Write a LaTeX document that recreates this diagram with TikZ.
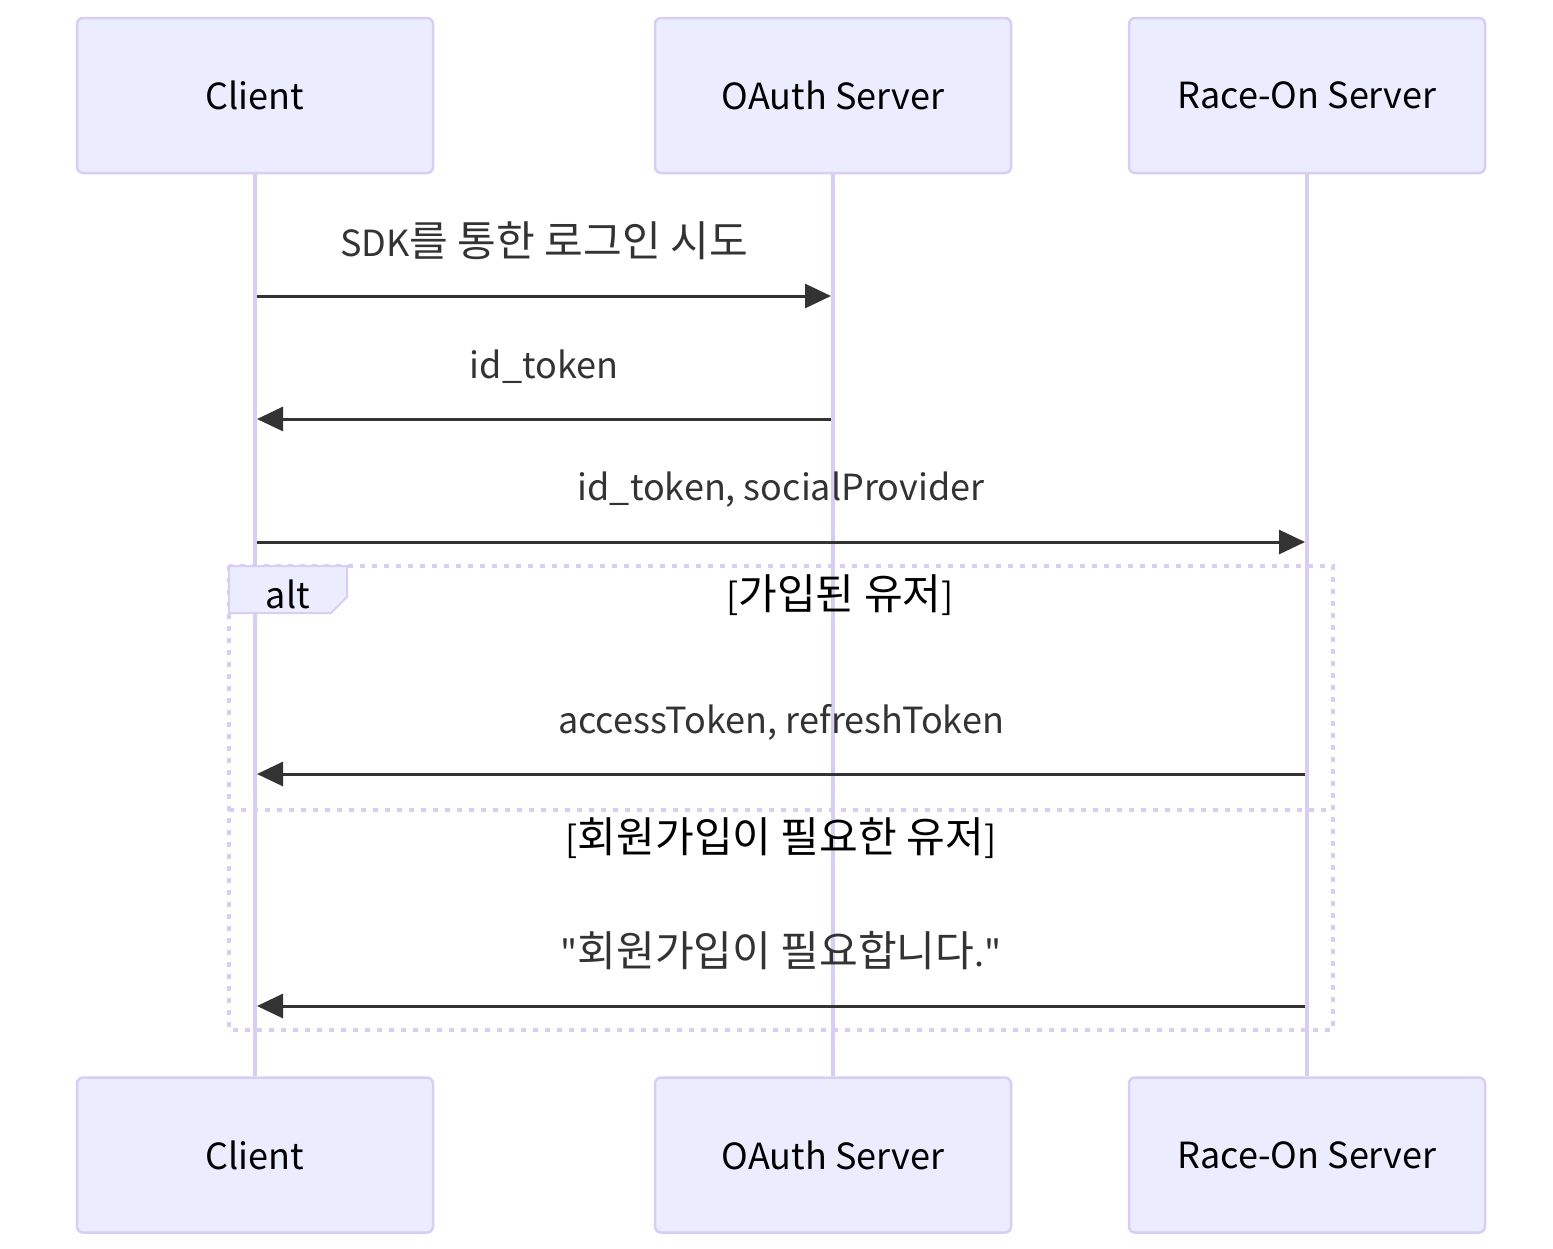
\documentclass[tikz,border=0pt]{standalone}
\usepackage{fontspec}
\setmainfont{Noto Sans CJK KR}
\newfontfamily\kr{Noto Sans CJK KR}[Scale=1.17]
\usetikzlibrary{arrows.meta,positioning,calc}
\definecolor{actorfill}{HTML}{ECECFF}
\definecolor{actorline}{HTML}{D8CEF3}
\definecolor{msgline}{HTML}{333333}
\newcommand{\seqfont}{\fontsize{36}{40}\selectfont}

\tikzset{
  actor/.style={draw=actorline, fill=actorfill, line width=2.5pt, rounded corners=6pt,
    minimum width=356pt, minimum height=155pt, font=\seqfont, text=black},
  lifeline/.style={draw=actorline, line width=4pt},
  msg/.style={draw=msgline, line width=3pt, -{Triangle[length=26pt,width=24pt]}},
  msglabel/.style={font=\seqfont, text=msgline, inner sep=0pt},
  altline/.style={draw=actorline, line width=3.5pt, dash pattern=on 5pt off 7pt},
}

\begin{document}
\begin{tikzpicture}[x=1pt, y=-1pt]
\useasboundingbox (0,0) rectangle (1553,1248);

%% === Participants ===
\node[actor] (client) at (255,95.5) {Client};
\node[actor] (oauth) at (833,95.5) {OAuth Server};
\node[actor] (raceon) at (1307,95.5) {Race-On Server};
\node[actor] (clientEnd) at (255,1155) {Client};
\node[actor] (oauthEnd) at (833,1155) {OAuth Server};
\node[actor] (raceonEnd) at (1307,1155) {Race-On Server};

% lifelines
\foreach \top/\bot in {client/clientEnd, oauth/oauthEnd, raceon/raceonEnd} {
  \draw[lifeline] (\top.south) -- (\bot.north);
}

%% === Messages ===
\coordinate (m1a) at (257,296);  \coordinate (m1b) at (831,296);
\coordinate (m2a) at (831,419);  \coordinate (m2b) at (257,419);
\coordinate (m3a) at (257,542);  \coordinate (m3b) at (1305,542);
\coordinate (m4a) at (1305,774); \coordinate (m4b) at (257,774);
\coordinate (m5a) at (1305,1006); \coordinate (m5b) at (257,1006);

\draw[msg] (m1a) -- (m1b);
\node[msglabel] (l1) at ($(m1a)!0.5!(m1b)+(0,-55)$) {SDK{\kr 를 통한 로그인 시도}};
\draw[msg] (m2a) -- (m2b);
\node[msglabel] (l2) at ($(m2a)!0.5!(m2b)+(0,-52)$) {id\_token};
\draw[msg] (m3a) -- (m3b);
\node[msglabel] (l3) at ($(m3a)!0.5!(m3b)+(0,-52)$) {id\_token, socialProvider};

%% === alt frame ===
\draw[altline] (229,566) rectangle (1333,1030);
\draw[draw=actorline, fill=actorfill, line width=2pt]
  (229,566) -- (347,566) -- (347,597) -- (331,613) -- (229,613) -- cycle;
\node[font=\seqfont, text=black, inner sep=0pt] (altTag) at (288,594) {alt};
\node[msglabel, text=black] (cond1) at (840,595) {[{\kr 가입된 유저}]};

\draw[msg] (m4a) -- (m4b);
\node[msglabel] (l4) at ($(m4a)!0.5!(m4b)+(0,-52)$) {accessToken, refreshToken};

% else separator
\draw[altline] (229,810) -- (1333,810);
\node[msglabel, text=black] (cond2) at (781,838) {[{\kr 회원가입이 필요한 유저}]};

\draw[msg] (m5a) -- (m5b);
\node[msglabel] (l5) at ($(m5a)!0.5!(m5b)+(0,-55)$) {\textquotedbl{\kr 회원가입이 필요합니다}.\textquotedbl};

\end{tikzpicture}
\end{document}
